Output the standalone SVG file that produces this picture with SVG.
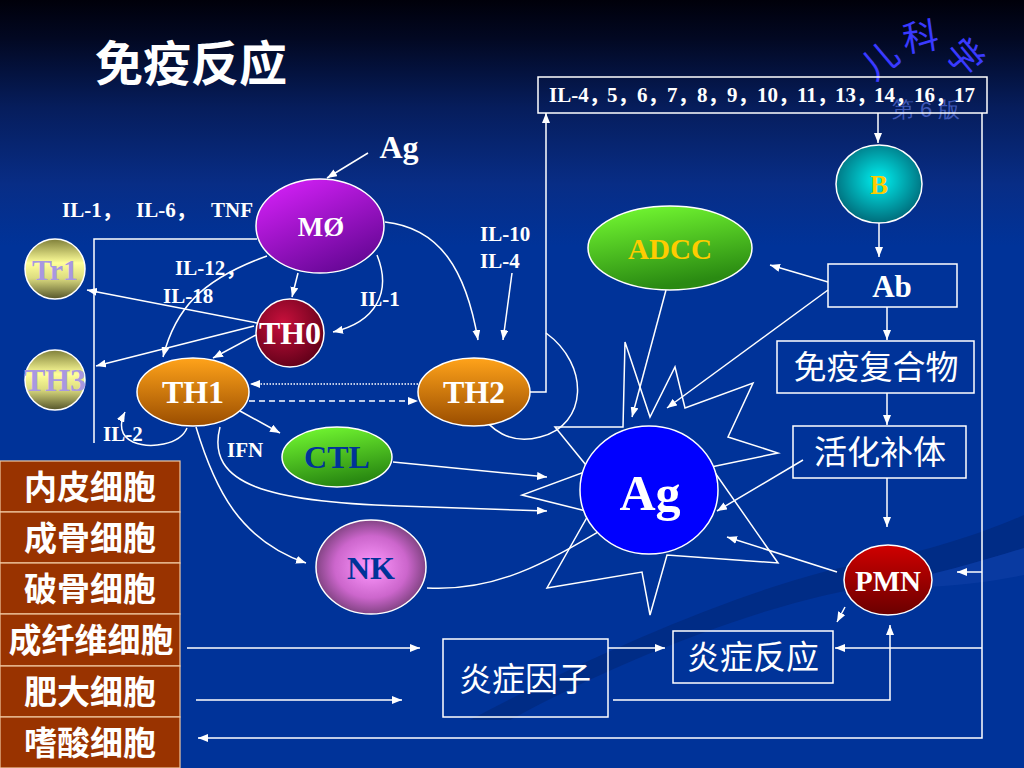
<svg xmlns="http://www.w3.org/2000/svg" width="1024" height="768" viewBox="0 0 1024 768">
<defs>
<linearGradient id="bg" x1="0" y1="0" x2="0" y2="1">
<stop offset="0" stop-color="#00000a"/>
<stop offset="0.05" stop-color="#020822"/>
<stop offset="0.14" stop-color="#061d5c"/>
<stop offset="0.24" stop-color="#082d86"/>
<stop offset="0.32" stop-color="#003399"/>
<stop offset="1" stop-color="#003399"/>
</linearGradient>
<linearGradient id="gPurple" x1="0" y1="0" x2="0.6" y2="1">
<stop offset="0" stop-color="#dd22ff"/>
<stop offset="1" stop-color="#6a0899"/>
</linearGradient>
<radialGradient id="gTH0" cx="0.4" cy="0.35" r="0.7">
<stop offset="0" stop-color="#c8103c"/>
<stop offset="1" stop-color="#5e0018"/>
</radialGradient>
<linearGradient id="gOrange" x1="0" y1="0" x2="0" y2="1">
<stop offset="0" stop-color="#ffa31a"/>
<stop offset="1" stop-color="#9a4d00"/>
</linearGradient>
<linearGradient id="gGreen" x1="0" y1="0" x2="0.3" y2="1">
<stop offset="0" stop-color="#77ff33"/>
<stop offset="1" stop-color="#2a8a12"/>
</linearGradient>
<radialGradient id="gNK" cx="0.5" cy="0.5" r="0.55">
<stop offset="0" stop-color="#ff99ff"/>
<stop offset="0.6" stop-color="#cc66cc"/>
<stop offset="1" stop-color="#6e3a70"/>
</radialGradient>
<linearGradient id="gYel" x1="0" y1="0" x2="0" y2="1">
<stop offset="0" stop-color="#80803a"/>
<stop offset="0.4" stop-color="#ffff99"/>
<stop offset="0.65" stop-color="#dddd80"/>
<stop offset="1" stop-color="#55552a"/>
</linearGradient>
<radialGradient id="gB" cx="0.5" cy="0.45" r="0.6">
<stop offset="0" stop-color="#00f0f0"/>
<stop offset="1" stop-color="#006070"/>
</radialGradient>
<linearGradient id="gPMN" x1="0" y1="0" x2="0" y2="1">
<stop offset="0" stop-color="#d00000"/>
<stop offset="1" stop-color="#6a0000"/>
</linearGradient>
<marker id="ar" viewBox="0 0 10 8" refX="10" refY="4" markerWidth="10" markerHeight="8" markerUnits="userSpaceOnUse" orient="auto">
<path d="M0,0 L10,4 L0,8 z" fill="#ffffff"/>
</marker>
<style>
.ln{fill:none;stroke:#ffffff;stroke-width:1.5}
.nd{stroke:#ffffff;stroke-width:1.5}
.en{font-family:"Liberation Serif","Times New Roman",serif;font-weight:bold;text-anchor:middle}
.lb{font-family:"Liberation Serif","Noto Sans CJK SC",serif;font-weight:bold;fill:#ffffff;font-size:21px}
.cn{font-family:"Noto Sans CJK SC","Noto Sans",sans-serif;fill:#ffffff;text-anchor:middle;font-size:33px}
.bx{fill:none;stroke:#ffffff;stroke-width:1.5}
.lbox{fill:#993300;stroke:#f0c8a0;stroke-width:1.2}
.wm{font-family:"Noto Sans CJK SC",sans-serif;fill:#3a3aff;font-size:36px;text-anchor:middle;dominant-baseline:central}
</style>
</defs>

<rect x="0" y="0" width="1024" height="768" fill="url(#bg)"/>
<path d="M470,720 C620,640 780,575 880,560 C940,548 990,530 1024,515 L1024,548 C985,560 935,575 880,585 C770,600 620,660 510,720 Z" fill="#00246e" opacity="0.45"/>
<path d="M1024,548 C985,560 935,575 880,585 C920,590 975,585 1024,575 Z" fill="#1d4cb5" opacity="0.3"/>

<text x="95" y="81" font-family="Noto Sans CJK SC,sans-serif" font-weight="bold" font-size="48" fill="#ffffff">免疫反应</text>

<g id="watermark">
<text class="wm" transform="translate(878,58) rotate(-40)" font-size="40">儿</text>
<text class="wm" transform="translate(920,34) rotate(-8)">科</text>
<text class="wm" transform="translate(967,55) rotate(50)">学</text>
<text x="926" y="117" font-family="Liberation Sans,sans-serif" font-size="22" fill="#3f58b8" text-anchor="middle">第 6 版</text>
</g>

<g id="connectors">
<path class="ln" d="M368,153 L327,178" marker-end="url(#ar)"/>
<path class="ln" d="M257,239 L94,239 L94,443"/>
<path class="ln" d="M257,323 L87,290" marker-end="url(#ar)"/>
<path class="ln" d="M254,326 L96,366" marker-end="url(#ar)"/>
<path class="ln" d="M298,273 L292,297" marker-end="url(#ar)"/>
<path class="ln" d="M377,255 C392,292 376,322 333,332" marker-end="url(#ar)"/>
<path class="ln" d="M267,256 C200,280 175,310 163,357" marker-end="url(#ar)"/>
<path class="ln" d="M256,335 L213,358" marker-end="url(#ar)"/>
<path class="ln" d="M385,222 C440,228 466,270 478,340" marker-end="url(#ar)"/>
<path class="ln" d="M512,273 L503,340" marker-end="url(#ar)"/>
<path class="ln" d="M418,384 L250,384" stroke-dasharray="1.5,1.5" marker-end="url(#ar)"/>
<path class="ln" d="M249,401 L418,401" stroke-dasharray="6,4" marker-end="url(#ar)"/>
<path class="ln" d="M240,411 L280,433" marker-end="url(#ar)"/>
<path class="ln" d="M187,428 C180,445 150,449 133,442 C120,436 119,424 125,412" marker-end="url(#ar)"/>
<path class="ln" d="M220,427 C205,485 270,502 400,506 L547,511" marker-end="url(#ar)"/>
<path class="ln" d="M196,427 C215,490 240,540 306,563" marker-end="url(#ar)"/>
<path class="ln" d="M393,462 L547,477" marker-end="url(#ar)"/>
<path class="ln" d="M427,588 C500,592 550,560 615,522" marker-end="url(#ar)"/>
<path class="ln" d="M529,392 L546,392 L546,113" marker-end="url(#ar)"/>
<path class="ln" d="M546,333 C590,365 588,425 540,437 C510,445 490,430 478,410" marker-end="url(#ar)"/>
<path class="ln" d="M878,113 L878,143" marker-end="url(#ar)"/>
<path class="ln" d="M982,113 L982,738 L198,738" marker-end="url(#ar)"/>
<path class="ln" d="M982,572 L957,572" marker-end="url(#ar)"/>
<path class="ln" d="M982,648 L835,648" marker-end="url(#ar)"/>
<path class="ln" d="M879,223 L879,257" marker-end="url(#ar)"/>
<path class="ln" d="M828,282 L770,265" marker-end="url(#ar)"/>
<path class="ln" d="M828,290 L667,408" marker-end="url(#ar)"/>
<path class="ln" d="M666,290 L632,417" marker-end="url(#ar)"/>
<path class="ln" d="M887,307 L887,340" marker-end="url(#ar)"/>
<path class="ln" d="M887,393 L887,425" marker-end="url(#ar)"/>
<path class="ln" d="M803,460 L717,511" marker-end="url(#ar)"/>
<path class="ln" d="M887,478 L887,527" marker-end="url(#ar)"/>
<path class="ln" d="M837,572 L727,537" marker-end="url(#ar)"/>
<path class="ln" d="M845,607 L837,622" marker-end="url(#ar)"/>
<path class="ln" d="M613,700 L890,700 L890,625" marker-end="url(#ar)"/>
<path class="ln" d="M608,648 L665,648" marker-end="url(#ar)"/>
<path class="ln" d="M187,648 L420,648" marker-end="url(#ar)"/>
<path class="ln" d="M196,700 L402,700" marker-end="url(#ar)"/>
</g>

<g id="labels">
<text class="lb" y="217"><tspan x="62">IL-1，</tspan><tspan x="136">IL-6，</tspan><tspan x="211">TNF</tspan></text>
<text class="lb" x="175" y="275">IL-12，</text>
<text class="lb" x="163" y="303">IL-18</text>
<text class="lb" x="360" y="306">IL-1</text>
<text class="lb" x="480" y="241">IL-10</text>
<text class="lb" x="480" y="268">IL-4</text>
<text class="lb" x="103" y="441" font-size="20">IL-2</text>
<text class="lb" x="227" y="457" font-size="20">IFN</text>
<text class="en" x="399" y="158" font-size="32" fill="#ffffff">Ag</text>
</g>

<g id="il-box">
<rect class="bx" x="538" y="77" width="449" height="36"/>
<text class="lb" y="102" font-size="18"><tspan x="549">IL-4，</tspan><tspan x="607">5，</tspan><tspan x="637">6，</tspan><tspan x="667">7，</tspan><tspan x="697">8，</tspan><tspan x="727">9，</tspan><tspan x="757">10，</tspan><tspan x="797">11，</tspan><tspan x="835">13，</tspan><tspan x="874">14，</tspan><tspan x="914">16，</tspan><tspan x="954">17</tspan></text>
</g>

<g id="ag-star">
<polygon class="ln" points="555,427 623,427 625,342 650,417 675,367 685,408 753,383 728,437 778,453 711,467 778,563 667,555 650,615 642,572 547,588 590,512 522,495 590,470"/>
</g>
<g id="Ag">
<ellipse class="nd" cx="649" cy="490" rx="69" ry="64" fill="#0000ff"/>
<text class="en" x="650" y="510" font-size="50" fill="#ffffff">Ag</text>
</g>

<g id="MO">
<ellipse class="nd" cx="320" cy="226" rx="64" ry="47" fill="url(#gPurple)"/>
<text class="en" x="321" y="236" font-size="27" fill="#ffffff">MØ</text>
</g>
<g id="Tr1">
<circle class="nd" cx="55" cy="269" r="30" fill="url(#gYel)"/>
<text class="en" x="55" y="280" font-size="30" fill="#a898e0">Tr1</text>
</g>
<g id="TH3">
<circle class="nd" cx="55" cy="380" r="30" fill="url(#gYel)"/>
<text class="en" x="55" y="391" font-size="32" fill="#a898e0">TH3</text>
</g>
<g id="TH0">
<circle class="nd" cx="290" cy="333" r="34" fill="url(#gTH0)"/>
<text class="en" x="290" y="344" font-size="32" fill="#ffffff">TH0</text>
</g>
<g id="TH1">
<ellipse class="nd" cx="193" cy="392" rx="56" ry="34" fill="url(#gOrange)"/>
<text class="en" x="193" y="403" font-size="32" fill="#ffffff">TH1</text>
</g>
<g id="TH2">
<ellipse class="nd" cx="474" cy="392" rx="56" ry="34" fill="url(#gOrange)"/>
<text class="en" x="474" y="403" font-size="32" fill="#ffffff">TH2</text>
</g>
<g id="CTL">
<ellipse class="nd" cx="337" cy="457" rx="55" ry="30" fill="url(#gGreen)"/>
<text class="en" x="337" y="468" font-size="32" fill="#003399">CTL</text>
</g>
<g id="NK">
<ellipse class="nd" cx="371" cy="567" rx="55" ry="47" fill="url(#gNK)"/>
<text class="en" x="371" y="579" font-size="32" fill="#003399">NK</text>
</g>
<g id="ADCC">
<ellipse class="nd" cx="670" cy="248" rx="82" ry="42" fill="url(#gGreen)"/>
<text class="en" x="670" y="259" font-size="29" fill="#ffcc00">ADCC</text>
</g>
<g id="B">
<ellipse class="nd" cx="879" cy="184" rx="43" ry="39" fill="url(#gB)"/>
<text class="en" x="879" y="194" font-size="27" fill="#ffcc00">B</text>
</g>
<g id="Ab">
<rect class="bx" x="828" y="264" width="129" height="43"/>
<text class="en" x="892" y="297" font-size="31" fill="#ffffff">Ab</text>
</g>
<g id="immune-complex">
<rect class="bx" x="777" y="341" width="197" height="52"/>
<text class="cn" x="876" y="379">免疫复合物</text>
</g>
<g id="complement">
<rect class="bx" x="793" y="426" width="173" height="52"/>
<text class="cn" x="880" y="464">活化补体</text>
</g>
<g id="PMN">
<ellipse class="nd" cx="888" cy="580" rx="44" ry="35" fill="url(#gPMN)"/>
<text class="en" x="888" y="591" font-size="29" fill="#ffffff">PMN</text>
</g>
<g id="inflammation">
<rect class="bx" x="673" y="631" width="160" height="52"/>
<text class="cn" x="753" y="669">炎症反应</text>
</g>
<g id="inflam-factor">
<rect class="bx" x="443" y="639" width="165" height="78"/>
<text class="cn" x="525" y="691">炎症因子</text>
</g>

<g id="cell-list" font-weight="bold">
<rect class="lbox" x="0" y="461" width="180" height="51"/>
<rect class="lbox" x="0" y="512" width="180" height="51"/>
<rect class="lbox" x="0" y="563" width="180" height="51"/>
<rect class="lbox" x="0" y="614" width="180" height="52"/>
<rect class="lbox" x="0" y="666" width="180" height="51"/>
<rect class="lbox" x="0" y="717" width="180" height="51"/>
<text class="cn" x="90" y="499">内皮细胞</text>
<text class="cn" x="90" y="550">成骨细胞</text>
<text class="cn" x="90" y="601">破骨细胞</text>
<text class="cn" x="91" y="652" font-size="34">成纤维细胞</text>
<text class="cn" x="90" y="704">肥大细胞</text>
<text class="cn" x="90" y="755">嗜酸细胞</text>
</g>
</svg>
